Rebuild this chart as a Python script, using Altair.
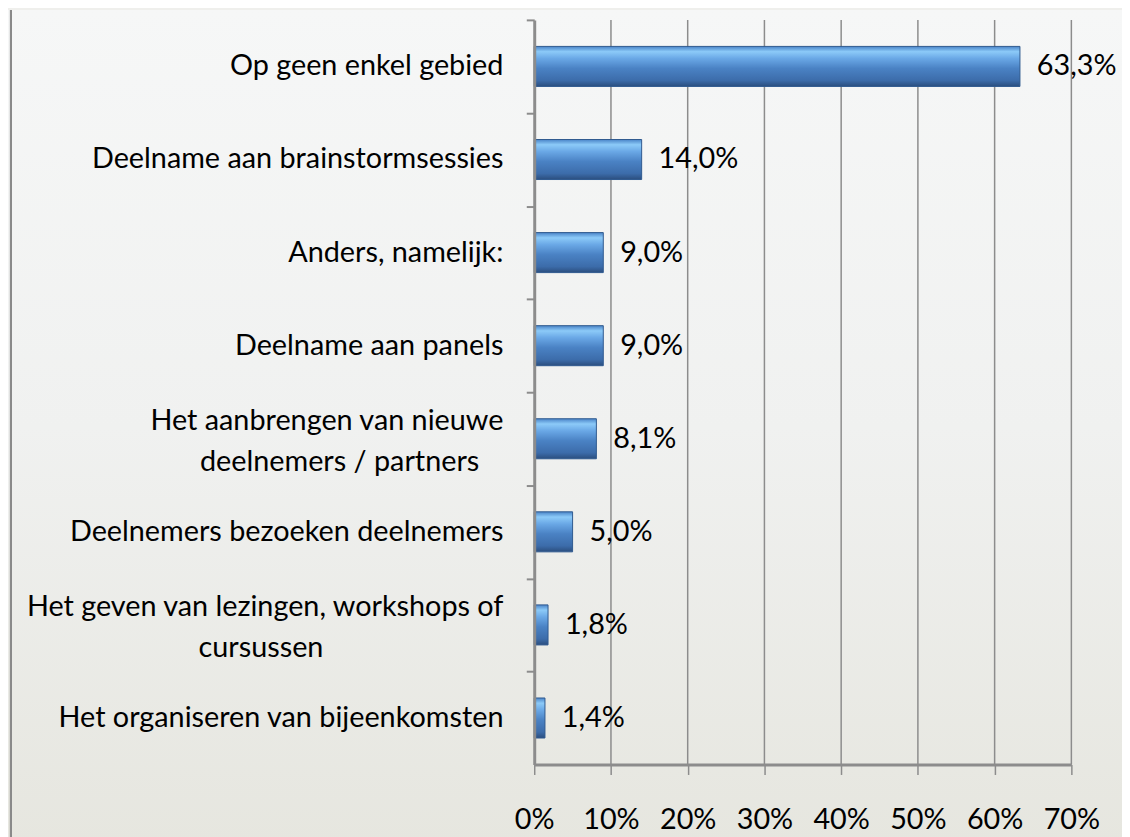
import altair as alt
import pandas as pd

categories = [
    "Op geen enkel gebied",
    "Deelname aan brainstormsessies",
    "Anders, namelijk:",
    "Deelname aan panels",
    "Het aanbrengen van nieuwe|deelnemers / partners",
    "Deelnemers bezoeken  deelnemers",
    "Het geven  van lezingen, workshops of|cursussen",
    "Het organiseren van bijeenkomsten",
]
values = [63.3, 14.0, 9.0, 9.0, 8.1, 5.0, 1.8, 1.4]
x_ticks = [0, 10, 20, 30, 40, 50, 60, 70]

labels = [f"{v:.1f}%".replace(".", ",") for v in values]
df = pd.DataFrame({"cat": categories, "val": values, "lab": labels})
grid_df = pd.DataFrame({"t": x_ticks[1:]})

FONT = "Liberation Sans Narrow, Lato, sans-serif"
W, H = 541, 750
STEP = H / len(categories)

bg = alt.Chart(df).mark_rect(
    color=alt.Gradient(
        gradient="linear", x1=0, x2=0, y1=0, y2=1,
        stops=[alt.GradientStop(color="#f6f7f7", offset=0),
               alt.GradientStop(color="#f0f1f0", offset=0.5),
               alt.GradientStop(color="#e6e6df", offset=1)]
    )
).encode(x=alt.value(-530), x2=alt.value(W + 60), y=alt.value(-10), y2=alt.value(H + 80))

border = alt.Chart(df).mark_rule(color="#8a8a8a", strokeWidth=2).encode(
    x=alt.value(-527), y=alt.value(-10), y2=alt.value(H + 80)
)

xscale = alt.Scale(domain=[0, 70], nice=False)
yscale = alt.Scale(paddingInner=0.57, paddingOuter=0.285)

grid = alt.Chart(grid_df).mark_rule(color="#8c8c8c", strokeWidth=1.5).encode(
    x=alt.X("t:Q", scale=xscale), y=alt.value(0), y2=alt.value(H)
)

bars = alt.Chart(df).mark_bar(
    color=alt.Gradient(
        gradient="linear", x1=0, x2=0, y1=0, y2=1,
        stops=[alt.GradientStop(color="#4a84c8", offset=0),
               alt.GradientStop(color="#8ccaf8", offset=0.13),
               alt.GradientStop(color="#6aa8e6", offset=0.3),
               alt.GradientStop(color="#4a82c4", offset=0.55),
               alt.GradientStop(color="#3c6caa", offset=0.85),
               alt.GradientStop(color="#2b4e7e", offset=1)]
    ),
    stroke="#2f5a8f", strokeWidth=1,
).encode(
    x=alt.X("val:Q", scale=xscale,
            axis=alt.Axis(values=x_ticks, labelExpr="datum.value + '%'", title=None,
                          grid=False, zindex=1, labelOverlap=False, labelFlush=False,
                          domainColor="#8c8c8c", domainWidth=3,
                          tickColor="#8c8c8c", tickWidth=1.5, tickSize=10,
                          labelFont=FONT, labelFontSize=29, labelColor="#000000",
                          labelPadding=31)),
    y=alt.Y("cat:N", sort=None, scale=yscale,
            axis=alt.Axis(title=None, labels=False, zindex=1,
                          domainColor="#8c8c8c", domainWidth=3,
                          tickColor="#8c8c8c", tickWidth=2, tickSize=8,
                          tickOffset=-STEP / 2)),
)

text = alt.Chart(df).mark_text(
    align="left", baseline="middle", dx=17, font=FONT, fontSize=29, color="#000000"
).encode(x=alt.X("val:Q", scale=xscale), y=alt.Y("cat:N", sort=None, scale=yscale), text="lab:N")

# category labels drawn as text, two-line ones split and centred as a block
base_lab = alt.Chart(df).transform_calculate(
    parts="split(datum.cat, '|')",
    line1="datum.parts[0]",
    line2="length(datum.parts) > 1 ? datum.parts[1] : ''",
    multi="length(datum.parts) > 1",
    cx="-31 - length(datum.parts[0]) * 6.6",
)
lab_kw = dict(baseline="middle", font=FONT, fontSize=29, color="#000000")
ylab = alt.Y("cat:N", sort=None, scale=yscale)
single = base_lab.transform_filter("!datum.multi").mark_text(align="right", **lab_kw).encode(
    x=alt.value(-31), y=ylab, text="line1:N")
first = base_lab.transform_filter("datum.multi").mark_text(align="right", dy=-18, **lab_kw).encode(
    x=alt.value(-31), y=ylab, text="line1:N")
second = base_lab.transform_filter("datum.multi").mark_text(align="center", dy=23, **lab_kw).encode(
    x=alt.X("cx:Q", scale=None), y=ylab, text="line2:N")

chart = alt.layer(bg, border, grid, bars, text, single, first, second).properties(
    width=W, height=H,
    autosize=alt.AutoSizeParams(type="none"),
    padding={"left": 530, "top": 9, "right": 51, "bottom": 70},
    background="#efefec",
).configure_view(stroke=None)

chart.save("out.html", embed_options={"renderer": "svg", "actions": False})
